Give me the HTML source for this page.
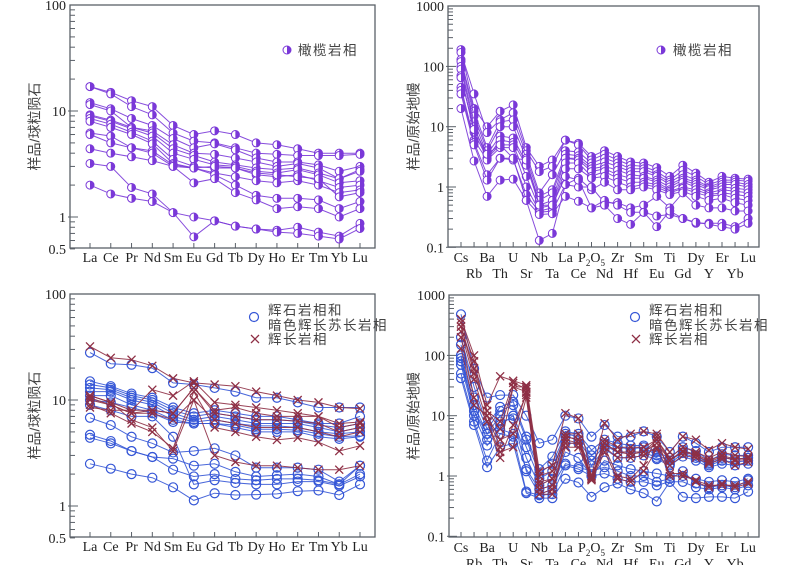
<!DOCTYPE html>
<html><head><meta charset="utf-8">
<style>
html,body{margin:0;padding:0;background:#fff;}
svg{display:block;}
text{font-family:"Liberation Serif","Noto Serif CJK SC",serif;fill:#222;}
.cjk{font-family:"Liberation Sans","Noto Sans CJK SC",sans-serif;fill:#444;}
</style></head>
<body>
<svg id="chart" width="800" height="565" viewBox="0 0 800 565" xmlns="http://www.w3.org/2000/svg"></svg>
<script>
// ---------- data ----------
const reeLabels = ["La","Ce","Pr","Nd","Sm","Eu","Gd","Tb","Dy","Ho","Er","Tm","Yb","Lu"];
const spiderLabels = ["Cs","Rb","Ba","Th","U","Sr","Nb","Ta","La","Ce","P2O5","Nd","Zr","Hf","Sm","Eu","Ti","Gd","Dy","Y","Er","Yb","Lu"];
const reeTicks = [100,10,1,0.5];
const spiderTicks = [1000,100,10,1,0.1];

const olivineREE = [
 [17,15,12.5,11,7.3,6,6.5,6,5,4.8,4.4,4,4,4],
 [17,14.5,11,9.2,6.2,5.2,5,4.5,4,3.9,3.8,3.8,3.8,3.9],
 [12,10.5,8.5,7.3,5.5,4.5,4.9,4.3,3.6,3.3,3.3,3.1,2.7,3.0],
 [11.5,10,7,6.5,4.8,4,3.9,3.6,3.3,3.0,3.2,2.9,2.3,2.8],
 [9.2,8.2,7,6.2,4.4,3.8,3.3,3.1,2.9,2.8,2.9,2.6,2.3,2.7],
 [9,8,6.8,5.8,4,3.5,3.1,3,2.7,2.6,2.8,2.5,2.1,2.2],
 [8.5,7.5,6.3,5.2,3.5,3.0,2.9,2.9,2.5,2.4,2.5,2.2,1.9,2.0],
 [8,7,6,4.9,3.2,2.9,2.6,2.4,2.2,2.1,2.2,2.0,1.7,1.8],
 [6.2,5.8,4.5,4.2,3.1,2.9,2.5,2.0,1.6,1.5,1.5,1.45,1.2,1.4],
 [6,5,4.5,4,3.0,2.1,2.3,1.7,1.45,1.2,1.25,1.2,1.0,1.2],
 [4.4,4,3.7,3.4,3.0,2.9,3.0,2.9,2.6,2.5,2.4,2.3,1.55,1.7],
 [3.2,3,1.9,1.65,1.1,1.0,0.92,0.82,0.77,0.75,0.8,0.72,0.66,0.87],
 [2.0,1.65,1.5,1.4,1.1,0.65,0.92,0.82,0.77,0.72,0.7,0.66,0.62,0.78]
];
const olivineSpider = [
 [190,20,10,18,23,4.5,2.2,2.8,6,5.3,3.2,4,3.2,2.6,2.5,2.1,1.5,2.3,1.7,1.2,1.5,1.4,1.35],
 [170,35,8,13,17,4,1.8,2.2,6,5,2.8,3.5,2.8,2.3,2.2,1.8,1.3,1.9,1.5,1.1,1.3,1.3,1.25],
 [130,18,4.5,12,13,3.5,0.8,1.6,4,3.8,2.5,3,2.5,2,2,1.6,1.2,1.6,1.3,1.0,1.2,1.2,1.1],
 [120,15,4,10,10,3,0.7,0.9,3.5,3.3,2.2,2.6,2.2,1.8,1.8,1.5,1.1,1.4,1.2,0.95,1.1,1.1,1.0],
 [100,12,3.5,7,6.5,2.5,0.6,0.8,3,3,2,2.2,1.9,1.6,1.5,1.3,1.0,1.3,1.1,0.9,1.0,0.95,0.9],
 [90,10,3,6,5.5,2.3,0.5,0.6,3,2.8,1.8,2,1.6,1.4,1.4,1.2,0.9,1.2,1.0,0.8,0.9,0.85,0.8],
 [70,8,3,5,5,1.5,0.45,0.5,2.5,2.5,1.5,1.8,1.4,1.2,1.2,1.1,0.85,1.0,0.9,0.75,0.8,0.75,0.7],
 [45,6,2.8,4.5,4.5,1.0,0.4,0.45,2,2,1.4,1.5,1.2,1.0,1.1,1.0,0.8,0.95,0.8,0.7,0.75,0.65,0.6],
 [40,5.5,1.6,3,2.8,0.75,0.38,0.4,1.1,1.4,0.9,1.2,0.9,0.9,1.0,0.9,0.75,0.85,0.7,0.6,0.65,0.55,0.5],
 [35,5,1.3,3,3,0.6,0.13,0.17,1.1,1.0,1.0,0.55,0.55,0.45,0.5,0.7,0.45,0.8,0.5,0.45,0.45,0.4,0.4],
 [20,2.7,0.7,1.3,1.35,0.6,0.35,0.36,0.7,0.58,0.45,0.6,0.5,0.38,0.38,0.33,0.35,0.3,0.25,0.25,0.25,0.22,0.3],
 [65,9,3.5,5,3,2.8,0.5,0.5,1.5,1.3,0.45,0.5,0.3,0.24,0.38,0.22,0.4,0.3,0.26,0.24,0.22,0.2,0.25]
];
const pyroxeniteREE = [
 [28,22,21.5,20,14.5,14,13,12,10.5,10.5,9.5,8.5,8.5,8.5],
 [15,13.5,11.5,10.5,8.5,7.5,8,7.5,7,7,6.5,6,6,7],
 [14,13,11,10,8,7,7.5,7,6.5,6.5,6.3,5.8,5.5,6],
 [13,12.5,10.5,9.5,7.5,6.5,7,6.5,6,6,6,5.5,5,5.5],
 [12,12,10,9,7,6.2,6.5,6,5.7,5.7,5.5,5,4.8,5],
 [11,11,9,8,6.5,6,6,5.8,5.3,5.3,5.2,4.8,4.5,4.6],
 [10,9.5,8.5,7.5,6.2,6,6,5.5,5.0,5,5,4.5,4.3,4.5],
 [6.8,5.8,4.5,3.9,3.2,3.3,3.5,3.0,2.3,2.3,2.3,2.2,1.7,2.4],
 [4.7,4.1,3.3,2.9,2.8,2.4,2.5,2.1,1.9,1.95,2.0,1.9,1.6,2.4],
 [4.4,3.9,3.3,2.9,2.2,1.9,2.0,1.8,1.75,1.8,1.8,1.75,1.6,2.0],
 [9,8,7,7,4.5,1.6,1.75,1.65,1.6,1.6,1.7,1.7,1.55,1.9],
 [2.5,2.25,2.0,1.85,1.5,1.13,1.32,1.27,1.28,1.3,1.38,1.4,1.27,1.6]
];
const gabbroREE = [
 [32,25,24,21,16,14.5,14,13.5,12,11,10,9.5,8.5,8.3],
 [11,9.5,8,12.5,11,15,9.5,9,8.5,8,7.5,7,6,6.2],
 [10.5,9,7.5,8,7.5,13,7.5,7,6.5,6.5,6.3,6,5,5.5],
 [10,9,7.5,7.5,6.5,10,6.5,6,5.5,5.5,5.5,5,4.5,5],
 [9,7.5,6,5,3.5,12,5.5,5,4.5,4.2,4.4,4,3.3,3.7],
 [11,9.5,6.5,5.5,3.3,10,3,2.6,2.4,2.4,2.3,2.2,2.2,2.4],
 [8.5,8,8,8,7.5,13,8,8.5,7.5,7,7,7,5.5,6]
];
const pyroxeniteSpider = [
 [480,60,20,22,22,10,3.5,4,10,9,4.5,7,4.5,4.5,5.5,4.5,2.5,4.5,3.5,2.5,3,3,3],
 [200,30,7,14,17,4.5,1.3,2.1,5.5,5,2.7,4,3.5,3.2,3.2,2.5,2,3,2.6,1.8,2.3,2.2,2.2],
 [150,20,6,12,15,4,1.1,1.6,5,4.5,2.2,3.5,3,2.8,3,2.2,1.8,2.7,2.2,1.6,2,1.9,2],
 [100,15,5,10,10,3,0.9,1.2,4.5,4,1.8,3.2,2.5,2.5,2.5,2,1.6,2.4,2,1.5,1.8,1.7,1.8],
 [80,12,4,8,9,2,0.7,0.9,3.5,3.5,1.5,2.8,2,2,2.2,1.9,1.5,2.1,1.8,1.4,1.6,1.5,1.6],
 [70,10,3.2,6,5,1.3,0.6,0.7,1.6,1.4,1.2,1.4,1.2,1.0,1.0,0.8,0.9,1.2,0.75,0.65,0.7,0.65,0.85],
 [50,8,1.8,5,4.5,0.55,0.48,0.5,1.5,1.3,1,1.1,0.9,0.8,0.8,0.7,0.8,0.8,0.65,0.6,0.65,0.6,0.7],
 [42,7,1.4,3,3.5,0.52,0.43,0.43,0.9,0.78,0.45,0.65,0.75,0.6,0.52,0.38,0.8,0.45,0.43,0.45,0.45,0.43,0.55],
 [90,12,5,7,10,1.2,0.5,0.6,2.5,2,1,1.8,1.5,1.3,1.2,1.1,1.0,1.0,0.9,0.8,0.85,0.8,0.9]
];
const gabbroSpider = [
 [400,100,15,45,38,32,1.2,1.5,11,9,1.0,7.5,4,5,5.5,5,2.5,4.5,4,2.7,3.5,3,2.8],
 [300,60,12,8,35,28,1.0,1.2,5,5,0.9,4,3,3,3,4,2,3,2.5,2,2.5,2.2,2.1],
 [350,80,10,3,30,25,0.8,0.9,4.5,4,0.95,3.5,2.5,2.5,2.5,3.5,1.8,2.5,2.2,1.7,2.1,1.8,1.9],
 [250,40,8,2,7,22,0.6,0.7,3.5,3.5,0.9,3,2,2,2.2,3,1.5,2.2,2,1.6,1.9,1.5,1.7],
 [200,20,8,2.5,3,20,0.5,0.6,3,3,0.85,2.5,0.9,0.8,1.2,2.8,1.1,1.1,0.8,0.65,0.75,0.65,0.75],
 [130,15,10,4,5,24,0.5,0.5,4,3.5,0.9,3,1.0,0.9,1.5,4.5,1.0,1.0,0.85,0.7,0.7,0.7,0.8],
 [300,50,12,6,30,30,0.7,0.9,4.5,4,1.0,3.5,2.5,2.3,2.5,4,1.8,2.6,2.3,1.8,2.2,1.9,2]
];

// ---------- drawing ----------
const NS = "http://www.w3.org/2000/svg";
const svg = document.getElementById("chart");
const PURPLE = "#7a38d8", BLUE = "#3556d6", RED = "#8e2f45", AX = "#5a6068";

function mk(tag, attrs, parent) {
  const e = document.createElementNS(NS, tag);
  for (const k in attrs) e.setAttribute(k, attrs[k]);
  (parent || svg).appendChild(e);
  return e;
}

function makeAxes(p) {
  // p: {x0,x1,y0,y1, xStart, xStep, yOne, decade, min, max}
  return {
    x: i => p.xStart + i * p.xStep,
    y: v => p.yOne - p.decade * Math.log10(v)
  };
}

function drawFrame(g, p, ax, ticks, labels, title, twoRow, name) {
  const frame = mk("rect", {x:p.x0, y:p.y0, width:p.x1-p.x0, height:p.y1-p.y0, fill:"none", stroke:AX, "stroke-width":1.3}, g);
  
  
  // log minor / major ticks
  const lo = Math.floor(Math.log10(p.min)), hi = Math.ceil(Math.log10(p.max));
  for (let d = lo; d < hi; d++) {
    for (let m = 1; m <= 9; m++) {
      const v = m * Math.pow(10, d);
      if (v < p.min - 1e-9 || v > p.max + 1e-9) continue;
      const yy = ax.y(v);
      const len = m === 1 ? 8 : 5;
      const t = mk("line", {x1:p.x0 - (m===1?2:0), x2:p.x0+len, y1:yy, y2:yy, stroke:AX, "stroke-width":1}, g);
      
      
    }
  }
  ticks.forEach(v => {
    const t = mk("text", {x:p.x0-4, y:ax.y(v)+5, "text-anchor":"end", "font-size":14}, g);
    t.textContent = String(v);
    
    
  });
  labels.forEach((lab, i) => {
    const xx = ax.x(i);
    const t1 = mk("line", {x1:xx, x2:xx, y1:p.y1, y2:p.y1-5, stroke:AX, "stroke-width":1}, g);
    
    
    const yy = twoRow ? (i % 2 === 0 ? p.y1 + 15 : p.y1 + 31) : p.y1 + 14;
    const t = mk("text", {x:xx, y:yy, "text-anchor":"middle", "font-size":14}, g);
    if (lab === "P2O5") {
      t.appendChild(document.createTextNode("P"));
      const s1 = mk("tspan", {"font-size":9, dy:4}, t); s1.textContent = "2";
      const s2 = mk("tspan", {"font-size":14, dy:-4}, t); s2.textContent = "O";
      const s3 = mk("tspan", {"font-size":9, dy:4}, t); s3.textContent = "5";
    } else t.textContent = lab;
    
    
  });
  const cy = (p.y0 + p.y1) / 2;
  const tt = mk("text", {x:p.titleX, y:cy, "text-anchor":"middle", "font-size":14, "class":"cjk", transform:`rotate(-90 ${p.titleX} ${cy})`, "dominant-baseline":"middle"}, g);
  tt.textContent = title;
  
  
}

function marker(g, type, cx, cy, color, nm) {
  let el;
  if (type === "half") {
    el = mk("g", {}, g);
    mk("circle", {cx, cy, r:4, fill:"#fff", stroke:color, "stroke-width":1}, el);
    mk("path", {d:`M${cx},${cy-4} A4,4 0 0 1 ${cx},${cy+4} Z`, fill:color}, el);
  } else if (type === "circle") {
    el = mk("circle", {cx, cy, r:4.5, fill:"none", stroke:color, "stroke-width":1.2}, g);
  } else {
    el = mk("path", {d:`M${cx-4},${cy-4}L${cx+4},${cy+4}M${cx-4},${cy+4}L${cx+4},${cy-4}`, stroke:color, "stroke-width":1.3, fill:"none"}, g);
  }
  
  
  return el;
}

function drawSeries(g, ax, data, color, type, name) {
  data.forEach((row, si) => {
    const d = row.map((v, i) => (i ? "L" : "M") + ax.x(i).toFixed(1) + "," + ax.y(v).toFixed(1)).join("");
    const ln = mk("path", {d, fill:"none", stroke:color, "stroke-width":1, "stroke-opacity":0.9}, g);
    
    
    row.forEach((v, i) => marker(g, type, ax.x(i), ax.y(v), color, name + '-point'));
  });
}

function legendText(g, x, y, txt, nm) {
  const t = mk("text", {x, y, "font-size":13.5, "class":"cjk", "letter-spacing":"1.5"}, g);
  t.textContent = txt;
  
  
}

// panel configs
const P1 = {x0:70, x1:375, y0:5, y1:248, xStart:90, xStep:20.77, yOne:217, decade:106, min:0.5, max:100, titleX:36};
const P2 = {x0:448, x1:759, y0:6, y1:247, xStart:461, xStep:13.05, yOne:187, decade:60.3, min:0.1, max:1000, titleX:415};
const P3 = {x0:70, x1:375, y0:294, y1:537, xStart:90, xStep:20.77, yOne:506, decade:106, min:0.5, max:100, titleX:36};
const P4 = {x0:449, x1:759, y0:295, y1:537, xStart:461, xStep:13.05, yOne:476, decade:60.3, min:0.1, max:1000, titleX:415};

function panel(p, name) {
  const g = mk("g", {});
  
  
  return g;
}

// Panel 1
let g = panel(P1, "olivine-ree-panel"); let ax = makeAxes(P1);
drawFrame(g, P1, ax, reeTicks, reeLabels, "样品/球粒陨石", false, "p1");
drawSeries(g, ax, olivineREE, PURPLE, "half", "olivine-ree");
let lg = mk("g", {}, g);  
marker(lg, "half", 287, 50, PURPLE, "legend-olivine-marker");
legendText(lg, 298, 55, "橄榄岩相", "legend-olivine-label");

// Panel 2
g = panel(P2, "olivine-spider-panel"); ax = makeAxes(P2);
drawFrame(g, P2, ax, spiderTicks, spiderLabels, "样品/原始地幔", true, "p2");
drawSeries(g, ax, olivineSpider, PURPLE, "half", "olivine-spider");
lg = mk("g", {}, g);  
marker(lg, "half", 661, 50, PURPLE, "legend-olivine-marker");
legendText(lg, 673, 55, "橄榄岩相", "legend-olivine-label");

// Panel 3
g = panel(P3, "pyroxenite-gabbro-ree-panel"); ax = makeAxes(P3);
drawFrame(g, P3, ax, reeTicks, reeLabels, "样品/球粒陨石", false, "p3");
drawSeries(g, ax, pyroxeniteREE, BLUE, "circle", "pyroxenite-ree");
drawSeries(g, ax, gabbroREE, RED, "x", "gabbro-ree");
lg = mk("g", {}, g);  
marker(lg, "circle", 254, 317, BLUE, "legend-pyroxenite-marker");
legendText(lg, 268, 315, "辉石岩相和", "legend-pyroxenite-label-1");
legendText(lg, 268, 330, "暗色辉长苏长岩相", "legend-pyroxenite-label-2");
marker(lg, "x", 255, 339, RED, "legend-gabbro-marker");
legendText(lg, 268, 344, "辉长岩相", "legend-gabbro-label");

// Panel 4
g = panel(P4, "pyroxenite-gabbro-spider-panel"); ax = makeAxes(P4);
drawFrame(g, P4, ax, spiderTicks, spiderLabels, "样品/原始地幔", true, "p4");
drawSeries(g, ax, pyroxeniteSpider, BLUE, "circle", "pyroxenite-spider");
drawSeries(g, ax, gabbroSpider, RED, "x", "gabbro-spider");
lg = mk("g", {}, g);  
marker(lg, "circle", 635, 317, BLUE, "legend-pyroxenite-marker");
legendText(lg, 649, 315, "辉石岩相和", "legend-pyroxenite-label-1");
legendText(lg, 649, 330, "暗色辉长苏长岩相", "legend-pyroxenite-label-2");
marker(lg, "x", 636, 339, RED, "legend-gabbro-marker");
legendText(lg, 649, 344, "辉长岩相", "legend-gabbro-label");
</script>
</body></html>
